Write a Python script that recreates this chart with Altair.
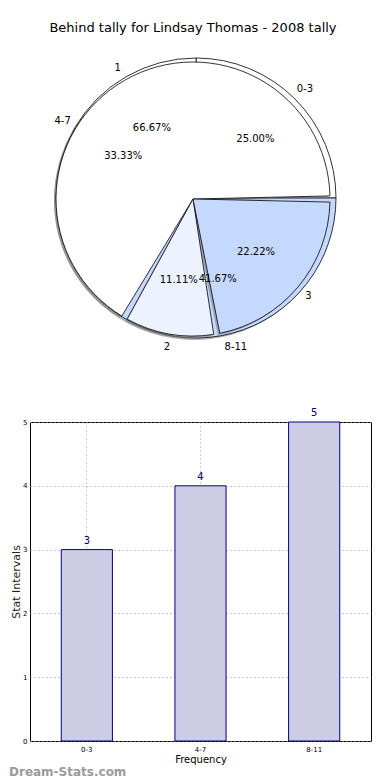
import math
import altair as alt
import pandas as pd

# ---------------- data ----------------
title_text = "Behind tally for Lindsay Thomas - 2008 tally"
freq_labels = ["0-3", "4-7", "8-11"]
freq_counts = [3, 4, 5]
tally_labels = ["1", "2", "3"]
tally_counts = [6, 1, 2]
freq_colors = ["#ffffff", "#ffffff", "#c5d9fe"]
tally_colors = ["#ffffff", "#edf3fe", "#c5d9fe"]
y_ticks = [0, 1, 2, 3, 4, 5]
watermark_text = "Dream-Stats.com"

pie_a = pd.DataFrame({"label": freq_labels, "value": freq_counts,
                      "idx": [0, 1, 2], "color": freq_colors})
pie_b = pd.DataFrame({"label": tally_labels, "value": tally_counts,
                      "idx": [0, 1, 2], "color": tally_colors})
bar_df = pd.DataFrame({"freq": freq_labels, "count": freq_counts})

# ---------------- layout ----------------
PLOT_LEFT = 29
PW = 370 - PLOT_LEFT
PIE_H = 358
BAR_H = 319
CX, CY = 192 - PLOT_LEFT, 160
RA, RB = 140, 137
FONT = "DejaVu Sans"

theta_scale = alt.Scale(range=[math.pi / 2, math.pi / 2 + 2 * math.pi])


def pie_layers(df, cx, cy, r, pad):
    base = alt.Chart(df).encode(
        theta=alt.Theta("value:Q", stack="normalize", scale=theta_scale),
        order=alt.Order("idx:Q", sort="descending"),
    )
    shadow = base.mark_arc(radius=r, color="#777777", opacity=0.55,
                           padAngle=pad).encode(
        x=alt.value(cx - 2), y=alt.value(cy + 2))
    wedges = base.mark_arc(radius=r, stroke="black", strokeWidth=0.8,
                           padAngle=pad).encode(
        x=alt.value(cx), y=alt.value(cy),
        color=alt.Color("color:N", scale=None))
    pct = base.transform_joinaggregate(total="sum(value)").transform_calculate(
        pct="format(datum.value / datum.total * 100, '.2f') + '%'"
    ).mark_text(radius=0.6 * r, fontSize=10, font=FONT, color="black").encode(
        x=alt.value(cx), y=alt.value(cy), text="pct:N")
    lab = base.mark_text(radius=1.1 * r, fontSize=10, font=FONT,
                         color="black").encode(
        x=alt.value(cx), y=alt.value(cy), text="label:N")
    return [shadow, wedges], [pct, lab]


a_shapes, a_texts = pie_layers(pie_a, CX + 3, CY - 1, RA, 0.0)
b_shapes, b_texts = pie_layers(pie_b, CX, CY, RB, 0.045)

pie = alt.layer(*a_shapes, *b_shapes, *a_texts, *b_texts).properties(
    width=PW, height=PIE_H, view=alt.ViewBackground(stroke=None))

x_enc = alt.X("freq:N", sort=freq_labels,
              scale=alt.Scale(paddingInner=0.55, paddingOuter=0.275),
              axis=alt.Axis(title="Frequency", labelAngle=0, labelFontSize=7,
                            titleFontSize=10, titleFontWeight="normal",
                            grid=True, gridDash=[1, 3], gridColor="#999999",
                            bandPosition=0.5, ticks=False, domain=False,
                            labelPadding=4, titlePadding=2,
                            labelColor="black", titleColor="black"))
y_enc = alt.Y("count:Q", scale=alt.Scale(domain=[0, 5]),
              axis=alt.Axis(title="Stat Intervals", values=y_ticks,
                            format="d", labelFontSize=7, titleFontSize=11,
                            titleFontWeight="normal", grid=True,
                            gridDash=[1, 3], gridColor="#999999",
                            ticks=False, domain=False, labelPadding=3,
                            titlePadding=1, labelColor="black",
                            titleColor="#222222"))

bars = alt.Chart(bar_df).mark_bar(fill="#ccccE5", stroke="#000080",
                                  strokeWidth=1).encode(x=x_enc, y=y_enc)
bar_text = alt.Chart(bar_df).mark_text(dy=-9, color="#000080", fontSize=10,
                                       font=FONT).encode(
    x=alt.X("freq:N", sort=freq_labels), y="count:Q", text="count:Q")
wm = alt.Chart(pd.DataFrame({"t": [watermark_text]})).mark_text(
    align="left", baseline="alphabetic", fontSize=12, fontWeight="bold",
    font=FONT, color="#9a9a9a").encode(
    x=alt.value(8 - PLOT_LEFT), y=alt.value(BAR_H + 35), text="t:N")

bar_chart = alt.layer(bars, bar_text, wm).properties(width=PW, height=BAR_H)

chart = alt.vconcat(pie, bar_chart, spacing=10).properties(
    title=alt.TitleParams(title_text, fontSize=13, fontWeight="normal",
                          font=FONT, anchor="middle", color="black",
                          offset=4, dx=3),
    padding={"left": 0, "top": 14, "right": 0, "bottom": 0},
).configure_view(stroke="black", strokeWidth=1).configure_concat(spacing=10)

chart = chart.configure_axis(labelFont=FONT, titleFont=FONT)

chart.save("out.html", embed_options={"renderer": "svg", "actions": False})
